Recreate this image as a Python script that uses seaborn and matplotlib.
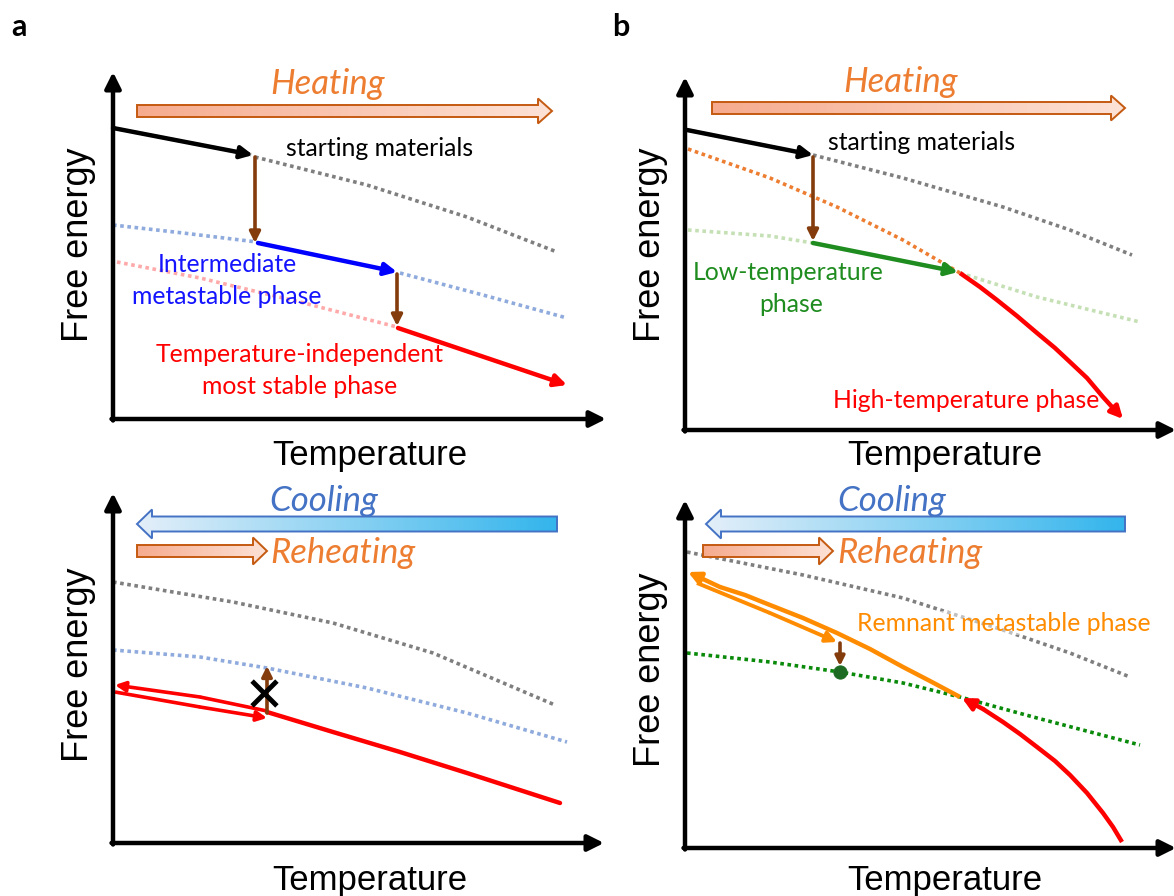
import numpy as np
import matplotlib
matplotlib.use("Agg")
import matplotlib.pyplot as plt
import seaborn as sns
from matplotlib.patches import FancyArrow
from matplotlib.colors import LinearSegmentedColormap

# ---- schematic data (x = temperature, y = free energy, image px) ----
# panel a, heating
a1_start_solid_x = [113, 253]
a1_start_solid_y = [128, 155]
a1_start_dot_x = [255, 367, 467, 557]
a1_start_dot_y = [157, 185, 217, 252]
a1_inter_dot_left_x = [113, 183, 257]
a1_inter_dot_left_y = [225, 233, 242]
a1_inter_solid_x = [258, 397]
a1_inter_solid_y = [243, 272]
a1_inter_dot_right_x = [400, 483, 567]
a1_inter_dot_right_y = [273, 295, 318]
a1_stable_dot_x = [117, 200, 300, 397]
a1_stable_dot_y = [262, 278, 302, 327]
a1_stable_solid_x = [398, 567]
a1_stable_solid_y = [328, 385]
a1_drop1_x, a1_drop1_y = [255, 255], [157, 243]
a1_drop2_x, a1_drop2_y = [397, 397], [274, 326]

# panel b, heating
b1_start_solid_x = [687, 813]
b1_start_solid_y = [130, 155]
b1_start_dot_x = [813, 903, 1003, 1070, 1132]
b1_start_dot_y = [155, 178, 207, 230, 255]
b1_high_dot_x = [688, 770, 837, 903, 960]
b1_high_dot_y = [149, 178, 207, 240, 273]
b1_low_dot_left_x = [688, 770, 813]
b1_low_dot_left_y = [230, 236, 243]
b1_low_solid_x = [813, 958]
b1_low_solid_y = [243, 272]
b1_low_dot_right_x = [960, 1037, 1140]
b1_low_dot_right_y = [273, 297, 322]
b1_high_solid_x = [960, 980, 997, 1017, 1037, 1055, 1070, 1087, 1103, 1113, 1123]
b1_high_solid_y = [273, 287, 300, 316, 333, 348, 362, 378, 397, 408, 419]
b1_drop_x, b1_drop_y = [813, 813], [157, 241]

# panel a, cooling / reheating
a2_start_dot_x = [113, 233, 333, 433, 555]
a2_start_dot_y = [582, 602, 623, 653, 705]
a2_inter_dot_x = [113, 200, 267, 367, 467, 567]
a2_inter_dot_y = [650, 657, 668, 688, 713, 742]
a2_stable_x = [267, 333, 400, 467, 560]
a2_stable_y = [712, 732, 752, 773, 803]
a2_cool_x = [267, 200, 115]
a2_cool_y = [711, 697, 685]
a2_reheat_x = [115, 200, 267]
a2_reheat_y = [692, 707, 718]
a2_fail_x, a2_fail_y = [267, 267], [713, 666]
a2_cross_x, a2_cross_y = [264], [693]

# panel b, cooling / reheating
b2_start_dot_x = [687, 803, 903, 1003, 1070, 1130]
b2_start_dot_y = [552, 575, 598, 630, 653, 677]
b2_low_dot_x = [687, 770, 840, 903, 960, 1037, 1140]
b2_low_dot_y = [653, 662, 672, 683, 697, 718, 745]
b2_high_x = [1122, 1113, 1103, 1087, 1070, 1055, 1037, 1020, 1003, 983, 962]
b2_high_y = [842, 827, 813, 793, 775, 761, 747, 734, 722, 709, 698]
b2_remnant_x = [960, 930, 903, 870, 837, 803, 770, 745, 720, 688]
b2_remnant_y = [697, 681, 667, 649, 633, 618, 605, 595, 587, 572]
b2_reheat_x = [697, 770, 837]
b2_reheat_y = [583, 613, 642]
b2_drop_x, b2_drop_y = [840, 840], [643, 666]
b2_point_x, b2_point_y = [840], [672]

W, H = 1174, 896
sns.set_theme(style="white")
plt.rcParams['font.family'] = ['Lato', 'DejaVu Sans']
plt.rcParams['text.color'] = 'black'

fig = plt.figure(figsize=(W / 100, H / 100), dpi=100)

GRAY = '#7f7f7f'
BROWN = '#843c0c'
ORANGE_TXT = '#ed7d31'
BLUE_TXT = '#4472c4'
LBL = 17.8   # calibri-like labels
ITAL = 25    # Heating / Cooling / Reheating


def make_ax(x0, x1, y0, y1):
    ax = fig.add_axes([x0 / W, 1 - y1 / H, (x1 - x0) / W, (y1 - y0) / H])
    ax.set_xlim(x0, x1)
    ax.set_ylim(y1, y0)
    ax.axis('off')
    return ax


def dotted(ax, x, y, color, alpha=1.0):
    sns.lineplot(x=x, y=y, ax=ax, color=color, lw=2.6, alpha=alpha, sort=False,
                 linestyle=(0, (1, 1)), dash_capstyle='butt', legend=False)


def arrow_line(ax, x, y, color, lw=3.2, ms=18):
    # polyline with a filled head on the last segment
    if len(x) > 2:
        sns.lineplot(x=x[:-1], y=y[:-1], ax=ax, color=color, lw=lw, sort=False,
                     legend=False, solid_capstyle='butt')
    ax.annotate('', xy=(x[-1], y[-1]), xytext=(x[-2], y[-2]),
                arrowprops=dict(arrowstyle='-|>', color=color, lw=lw,
                                mutation_scale=ms, shrinkA=0, shrinkB=0),
                annotation_clip=False)


def axes_arrows(ax, x0, y0, ytop, xright):
    kw = dict(arrowstyle='-|>', color='black', lw=3.2, mutation_scale=24,
              shrinkA=0, shrinkB=0)
    ax.annotate('', xy=(x0, ytop), xytext=(x0, y0 + 1.5), arrowprops=kw,
                annotation_clip=False)
    ax.annotate('', xy=(xright, y0), xytext=(x0 - 1.5, y0), arrowprops=kw,
                annotation_clip=False)


def block_arrow(ax, xs, xe, yc, body, head_w, head_l, c_left, c_right, edge):
    arr = FancyArrow(xs, yc, xe - xs, 0, width=body, head_width=head_w,
                     head_length=head_l, length_includes_head=True,
                     fc='none', ec=edge, lw=1.4, zorder=3)
    ax.add_patch(arr)
    lo, hi = min(xs, xe), max(xs, xe)
    cmap = LinearSegmentedColormap.from_list('grad', [c_left, c_right])
    im = ax.imshow(np.linspace(0, 1, 256).reshape(1, -1), cmap=cmap, aspect='auto',
                   extent=(lo, hi, yc + head_w, yc - head_w), zorder=2.9)
    im.set_clip_path(arr)


def frame_labels(ax, xl, yl, xt, yt):
    ax.text(xl, yl, 'Free energy', rotation=90, ha='center', va='center',
            fontsize=26, family=['Liberation Sans'], color='black')
    ax.text(xt, yt, 'Temperature', ha='center', va='center',
            fontsize=25, family=['Liberation Sans'], color='black', clip_on=False)


HEAT = ('#f6ab8e', '#fde2d6', '#c55a11')
COOL = ('#e4eff9', '#33b5ec', BLUE_TXT)

# ------------------------------------------------------------------ panel a, top
ax = make_ax(0, 600, 0, 460)
ax.text(19, 27, 'a', fontsize=22, fontweight='bold', ha='center', va='center')
axes_arrows(ax, 113, 419, 72, 606)
frame_labels(ax, 79, 245, 370, 455)
block_arrow(ax, 137, 552, 111, 12, 25, 14, *HEAT)
ax.text(328, 84, 'Heating', color=ORANGE_TXT, style='italic', fontsize=ITAL,
        ha='center', va='center')

dotted(ax, a1_start_solid_x, a1_start_solid_y, GRAY, 0.6)
dotted(ax, a1_start_dot_x, a1_start_dot_y, GRAY)
dotted(ax, a1_inter_dot_left_x, a1_inter_dot_left_y, '#8faadc')
dotted(ax, a1_inter_dot_right_x, a1_inter_dot_right_y, '#8faadc')
dotted(ax, a1_stable_dot_x, a1_stable_dot_y, '#ffaaaa')
arrow_line(ax, a1_start_solid_x, a1_start_solid_y, 'black')
arrow_line(ax, a1_inter_solid_x, a1_inter_solid_y, '#0000ff')
arrow_line(ax, a1_stable_solid_x, a1_stable_solid_y, '#ff0000')
arrow_line(ax, a1_drop1_x, a1_drop1_y, BROWN, lw=2.6, ms=16)
arrow_line(ax, a1_drop2_x, a1_drop2_y, BROWN, lw=2.6, ms=16)

ax.text(380, 149, 'starting materials', fontsize=LBL, ha='center', va='center')
ax.text(227, 265, 'Intermediate', color='#1414ff', fontsize=LBL, ha='center', va='center')
ax.text(227, 297, 'metastable phase', color='#1414ff', fontsize=LBL, ha='center', va='center')
ax.text(300, 355, 'Temperature-independent', color='#ff0000', fontsize=LBL,
        ha='center', va='center')
ax.text(300, 386, 'most stable phase', color='#ff0000', fontsize=LBL,
        ha='center', va='center')

# ------------------------------------------------------------------ panel b, top
ax = make_ax(600, 1174, 0, 460)
ax.text(621, 27, 'b', fontsize=22, fontweight='bold', ha='center', va='center')
axes_arrows(ax, 685, 430, 77, 1176)
frame_labels(ax, 650, 245, 945, 455)
block_arrow(ax, 712, 1125, 108, 12, 25, 14, *HEAT)
ax.text(901, 82, 'Heating', color=ORANGE_TXT, style='italic', fontsize=ITAL,
        ha='center', va='center')

dotted(ax, b1_start_solid_x, b1_start_solid_y, GRAY, 0.6)
dotted(ax, b1_start_dot_x, b1_start_dot_y, GRAY)
dotted(ax, b1_high_dot_x, b1_high_dot_y, '#ed7d31')
dotted(ax, b1_low_dot_left_x, b1_low_dot_left_y, '#c5e0b4')
dotted(ax, b1_low_dot_right_x, b1_low_dot_right_y, '#c5e0b4')
arrow_line(ax, b1_start_solid_x, b1_start_solid_y, 'black')
arrow_line(ax, b1_low_solid_x, b1_low_solid_y, '#1e8c1e')
arrow_line(ax, b1_high_solid_x, b1_high_solid_y, '#ff0000')
arrow_line(ax, b1_drop_x, b1_drop_y, BROWN, lw=2.6, ms=16)

ax.text(922, 143, 'starting materials', fontsize=LBL, ha='center', va='center')
ax.text(788, 272, 'Low-temperature', color='#1e8c1e', fontsize=LBL, ha='center', va='center')
ax.text(791, 304, 'phase', color='#1e8c1e', fontsize=LBL, ha='center', va='center')
ax.text(966, 400, 'High-temperature phase', color='#ff0000', fontsize=LBL,
        ha='center', va='center')

# ------------------------------------------------------------------ panel a, bottom
ax = make_ax(0, 600, 460, 896)
axes_arrows(ax, 113, 843, 493, 604)
frame_labels(ax, 79, 665, 370, 880)
block_arrow(ax, 557, 137, 524, 15, 29, 15, *COOL)
block_arrow(ax, 137, 267, 551, 12, 27, 14, *HEAT)
ax.text(324, 501, 'Cooling', color=BLUE_TXT, style='italic', fontsize=ITAL,
        ha='center', va='center')
ax.text(270, 553, 'Reheating', color=ORANGE_TXT, style='italic', fontsize=ITAL,
        ha='left', va='center')

dotted(ax, a2_start_dot_x, a2_start_dot_y, GRAY)
dotted(ax, a2_inter_dot_x, a2_inter_dot_y, '#8faadc')
sns.lineplot(x=a2_stable_x, y=a2_stable_y, ax=ax, color='#ff0000', lw=3.2,
             sort=False, legend=False)
arrow_line(ax, a2_cool_x, a2_cool_y, '#ff0000', lw=2.6, ms=15)
arrow_line(ax, a2_reheat_x, a2_reheat_y, '#ff0000', lw=2.6, ms=15)
arrow_line(ax, a2_fail_x, a2_fail_y, BROWN, lw=2.6, ms=15)
sns.scatterplot(x=a2_cross_x, y=a2_cross_y, ax=ax, marker='x', s=320, color='black',
                linewidth=3.5, legend=False, zorder=5)

# ------------------------------------------------------------------ panel b, bottom
ax = make_ax(600, 1174, 460, 896)
axes_arrows(ax, 685, 848, 500, 1176)
frame_labels(ax, 650, 670, 945, 880)
block_arrow(ax, 1125, 706, 524, 15, 29, 15, *COOL)
block_arrow(ax, 703, 833, 551, 12, 27, 14, *HEAT)
ax.text(892, 501, 'Cooling', color=BLUE_TXT, style='italic', fontsize=ITAL,
        ha='center', va='center')
ax.text(837, 553, 'Reheating', color=ORANGE_TXT, style='italic', fontsize=ITAL,
        ha='left', va='center')

dotted(ax, b2_start_dot_x, b2_start_dot_y, GRAY)
dotted(ax, b2_low_dot_x, b2_low_dot_y, '#0a8a0a')
arrow_line(ax, b2_high_x, b2_high_y, '#ff0000')
arrow_line(ax, b2_remnant_x, b2_remnant_y, '#ff8c00')
arrow_line(ax, b2_reheat_x, b2_reheat_y, '#ff8c00', lw=2.8, ms=16)
arrow_line(ax, b2_drop_x, b2_drop_y, BROWN, lw=2.6, ms=14)
sns.scatterplot(x=b2_point_x, y=b2_point_y, ax=ax, s=90, color='#1d6b22',
                edgecolor='#1d6b22', legend=False, zorder=5)
ax.text(1004, 623, 'Remnant metastable phase', color='#ff8c00', fontsize=LBL,
        ha='center', va='center',
        bbox=dict(facecolor='white', alpha=0.5, edgecolor='none', pad=0.5))

fig.savefig('out.png', dpi=100)
